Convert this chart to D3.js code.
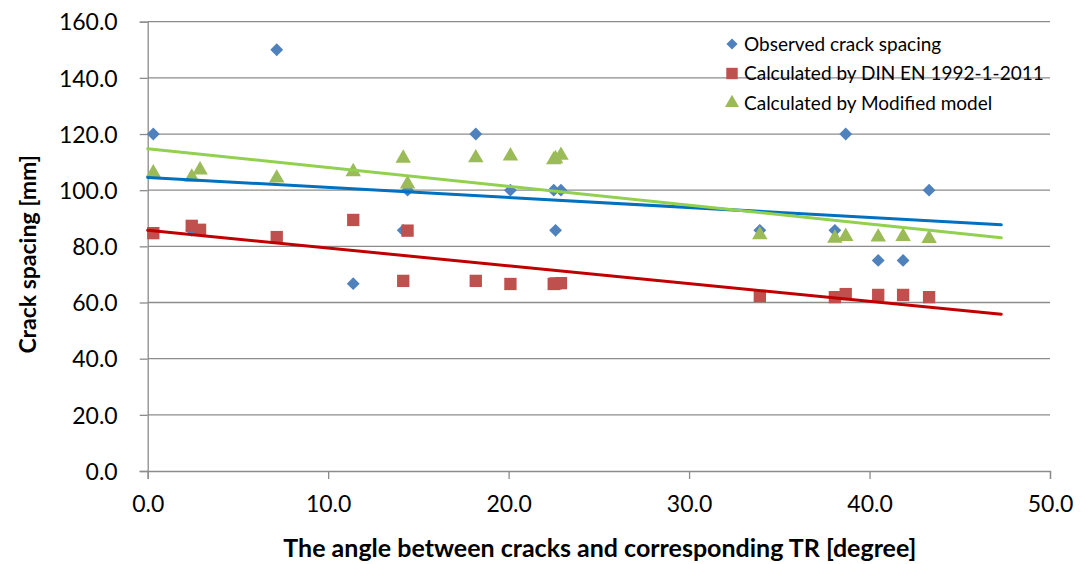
<!DOCTYPE html>
<html>
<head>
<meta charset="utf-8">
<script src="https://cdn.jsdelivr.net/npm/d3@7"></script>
<style>
  html, body { margin: 0; padding: 0; background: #fff; }
  svg { display: block; font-family: Lato, "Open Sans", sans-serif; }
</style>
</head>
<body>
<svg id="chart" width="1082" height="564"></svg>
<script>
// Angle between cracks and the corresponding TR, in degrees
const angles = [0.31, 2.44, 2.90, 7.15, 11.39, 14.16, 14.40, 18.18, 20.10,
                22.50, 22.60, 22.90, 33.92, 38.08, 38.68, 40.48, 41.86, 43.30];
// Crack spacing in mm
const observed = [120.0, 85.7, 85.7, 150.0, 66.7, 85.7, 100.0, 120.0, 100.0,
                  100.0, 85.7, 100.0, 85.7, 85.7, 120.0, 75.0, 75.0, 100.0];
const calcDIN = [84.7, 87.3, 85.9, 83.3, 89.4, 67.7, 85.6, 67.7, 66.6,
                 66.6, 66.8, 66.9, 62.3, 61.9, 63.0, 62.7, 62.7, 61.9];
const calcModified = [106.1, 104.6, 107.2, 104.3, 106.6, 111.4, 102.2, 111.5, 112.2,
                      110.8, 111.2, 112.4, 84.1, 82.9, 83.5, 83.3, 83.5, 82.8];

const seriesNames = ["Observed crack spacing", "Calculated by DIN EN 1992-1-2011", "Calculated by Modified model"];
const xTickValues = [0, 10, 20, 30, 40, 50];
const yTickValues = [0, 20, 40, 60, 80, 100, 120, 140, 160];
const xDomain = [0, 50];
const yDomain = [0, 160];
const trendSpan = [0, 47.3];   // linear trendlines, extended forward past the last angle

const xTitle = "The angle between cracks and corresponding TR [degree]";
const yTitle = "Crack spacing [mm]";

const svg = d3.select("#chart");
const plot = { left: 147.7, right: 1050, top: 21.7, bottom: 471 };

const x = d3.scaleLinear().domain(xDomain).range([plot.left, plot.right]);
const y = d3.scaleLinear().domain(yDomain).range([plot.bottom, plot.top]);

const series = [
  { name: seriesNames[0], values: observed,     marker: "diamond",  fill: "#4F81BD", trend: "#0070C0" },
  { name: seriesNames[1], values: calcDIN,      marker: "square",   fill: "#C0504D", trend: "#C00000" },
  { name: seriesNames[2], values: calcModified, marker: "triangle", fill: "#9BBB59", trend: "#92D050" }
];

const symbols = {
  diamond:  d3.symbol().type(d3.symbolDiamond2).size(105),
  square:   d3.symbol().type(d3.symbolSquare).size(152),
  triangle: d3.symbol().type(d3.symbolTriangle).size(104)
};
const legendSymbols = {
  diamond:  d3.symbol().type(d3.symbolDiamond2).size(80),
  square:   d3.symbol().type(d3.symbolSquare).size(130),
  triangle: d3.symbol().type(d3.symbolTriangle).size(86)
};

const gridColor = "#8c8c8c";

// horizontal gridlines
svg.append("g")
  .selectAll("line")
  .data(yTickValues.filter(v => v !== 0))
  .join("line")
  .attr("x1", plot.left).attr("x2", plot.right)
  .attr("y1", d => y(d)).attr("y2", d => y(d))
  .attr("stroke", gridColor).attr("stroke-width", 1.3);

// y axis
const yAxis = svg.append("g")
  .attr("transform", `translate(${plot.left},0)`)
  .call(d3.axisLeft(y).tickValues(yTickValues).tickFormat(d3.format(".1f")).tickSize(8).tickPadding(22));
// x axis
const xAxis = svg.append("g")
  .attr("transform", `translate(0,${plot.bottom})`)
  .call(d3.axisBottom(x).tickValues(xTickValues).tickFormat(d3.format(".1f")).tickSize(8).tickPadding(17));

[yAxis, xAxis].forEach(ax => {
  ax.select(".domain").attr("stroke", gridColor).attr("stroke-width", 1.3);
  ax.selectAll(".tick line").attr("stroke", gridColor).attr("stroke-width", 1.3);
  ax.selectAll(".tick text").attr("fill", "#000").style("font-size", "23px").style("font-family", "Lato, sans-serif");
});
yAxis.selectAll(".tick text").attr("dy", "0.36em");

// markers
series.forEach(s => {
  svg.append("g")
    .selectAll("path")
    .data(s.values.map((v, i) => [angles[i], v]))
    .join("path")
    .attr("d", symbols[s.marker])
    .attr("transform", d => `translate(${x(d[0])},${y(d[1])})`)
    .attr("fill", s.fill);
});

// least-squares trendlines
function fitLine(xs, ys) {
  const mx = d3.mean(xs), my = d3.mean(ys);
  let sxy = 0, sxx = 0;
  xs.forEach((xv, i) => { sxy += (xv - mx) * (ys[i] - my); sxx += (xv - mx) * (xv - mx); });
  const slope = sxy / sxx;
  return xv => my + slope * (xv - mx);
}
series.forEach(s => {
  const f = fitLine(angles, s.values);
  svg.append("line")
    .attr("x1", x(trendSpan[0])).attr("y1", y(f(trendSpan[0])))
    .attr("x2", x(trendSpan[1])).attr("y2", y(f(trendSpan[1])))
    .attr("stroke", s.trend).attr("stroke-width", 3).attr("stroke-linecap", "round");
});

// legend
const legend = svg.append("g").attr("transform", "translate(732,44)");
series.forEach((s, i) => {
  const row = legend.append("g").attr("transform", `translate(0,${i * 29.5})`);
  row.append("path").attr("d", legendSymbols[s.marker]).attr("fill", s.fill);
  row.append("text")
    .attr("x", 12).attr("dy", "0.35em")
    .style("font-size", "19px")
    .attr("fill", "#000")
    .text(s.name);
});

// axis titles
svg.append("text")
  .attr("x", (plot.left + plot.right) / 2 + 1)
  .attr("y", 557)
  .attr("text-anchor", "middle")
  .style("font-size", "25px").style("font-weight", "bold")
  .text(xTitle);

svg.append("text")
  .attr("transform", `translate(36,${(plot.top + plot.bottom) / 2 + 8}) rotate(-90)`)
  .attr("text-anchor", "middle")
  .style("font-size", "23px").style("font-weight", "bold")
  .text(yTitle);
</script>
</body>
</html>
